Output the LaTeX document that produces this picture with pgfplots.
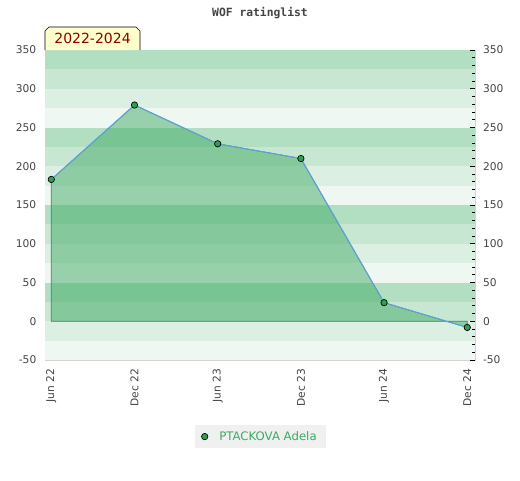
\documentclass[border=0pt]{standalone}
\usepackage{fontspec}
\setmainfont{DejaVu Sans}
\newfontfamily\monob{DejaVu Sans Mono}
\usepackage{pgfplots}
\pgfplotsset{compat=1.18}
\definecolor{bandA}{RGB}{178,223,194}
\definecolor{bandB}{RGB}{200,231,211}
\definecolor{bandC}{RGB}{220,239,227}
\definecolor{bandD}{RGB}{238,247,241}
\definecolor{areafill}{RGB}{66,170,102}
\definecolor{areaedge}{RGB}{46,139,87}
\definecolor{linecol}{RGB}{96,160,220}
\definecolor{markfill}{RGB}{46,158,85}
\definecolor{ticklab}{RGB}{68,68,68}
\definecolor{legtext}{RGB}{60,170,100}
\definecolor{legbg}{RGB}{240,240,240}
\definecolor{boxfill}{RGB}{255,255,204}
\definecolor{boxtext}{RGB}{139,0,0}
\begin{document}
\begin{tikzpicture}
\path[use as bounding box] (0,0) rectangle (390pt,360pt);
\node[font=\monob\bfseries\fontsize{8.5}{10}\selectfont, text=ticklab] at (195pt,350.5pt) {WOF ratinglist};
\begin{axis}[
  at={(33.75pt,90pt)}, anchor=south west,
  scale only axis, width=322.5pt, height=232.5pt,
  xmin=-0.076, xmax=5.093, ymin=-50, ymax=350,
  axis line style={draw=gray!35},
  xtick={0,1,2,3,4,5},
  xticklabels={Jun 22,Dec 22,Jun 23,Dec 23,Jun 24,Dec 24},
  xticklabel style={rotate=90, anchor=east, font=\fontsize{8}{9}\selectfont, text=ticklab, xshift=-3pt},
  ytick={-50,0,50,100,150,200,250,300,350},
  yticklabel style={font=\fontsize{8}{9}\selectfont, text=ticklab, xshift=-3pt},
  ytick pos=left, xtick pos=bottom,
  major tick length=0pt,
  /pgf/number format/assume math mode=true,
  legend style={at={(0.501,-0.247)}, anchor=center, fill=legbg, draw=none,
    font=\fontsize{8.8}{10}\selectfont, text=legtext, inner xsep=5pt, inner ysep=2.5pt},
  legend cell align=left,
]
% background bands
\fill[bandA] (axis cs:-1,325) rectangle (axis cs:6,350);
\fill[bandB] (axis cs:-1,300) rectangle (axis cs:6,325);
\fill[bandC] (axis cs:-1,275) rectangle (axis cs:6,300);
\fill[bandD] (axis cs:-1,250) rectangle (axis cs:6,275);
\fill[bandA] (axis cs:-1,225) rectangle (axis cs:6,250);
\fill[bandB] (axis cs:-1,200) rectangle (axis cs:6,225);
\fill[bandC] (axis cs:-1,175) rectangle (axis cs:6,200);
\fill[bandD] (axis cs:-1,150) rectangle (axis cs:6,175);
\fill[bandA] (axis cs:-1,125) rectangle (axis cs:6,150);
\fill[bandB] (axis cs:-1,100) rectangle (axis cs:6,125);
\fill[bandC] (axis cs:-1,75) rectangle (axis cs:6,100);
\fill[bandD] (axis cs:-1,50) rectangle (axis cs:6,75);
\fill[bandA] (axis cs:-1,25) rectangle (axis cs:6,50);
\fill[bandB] (axis cs:-1,0) rectangle (axis cs:6,25);
\fill[bandC] (axis cs:-1,-25) rectangle (axis cs:6,0);
\fill[bandD] (axis cs:-1,-50) rectangle (axis cs:6,-25);
\addplot[fill=areafill, fill opacity=0.5, draw=areaedge, line width=0.5pt, forget plot]
  coordinates {(0,0) (0,183) (1,279) (2,229) (3,210) (4,24) (5,-8) (5,0)} -- cycle;
\addplot[color=linecol, line width=0.8pt, mark=*, mark size=2.4pt,
  mark options={draw=black, fill=markfill, line width=0.5pt},
  legend image code/.code={\draw[mark options={draw=black, fill=markfill, line width=0.5pt}] plot coordinates {(0.05cm,0cm)}; \path (0.35cm,0cm);}]
  coordinates {(0,183) (1,279) (2,229) (3,210) (4,24) (5,-8)};
\addlegendentry{PTACKOVA Adela}
\end{axis}
\begin{axis}[
  at={(33.75pt,90pt)}, anchor=south west,
  scale only axis, width=322.5pt, height=232.5pt,
  xmin=-0.076, xmax=5.093, ymin=-50, ymax=350,
  hide x axis,
  axis y line*=right,
  y axis line style={draw=gray!35},
  ytick={-50,0,50,100,150,200,250,300,350},
  minor y tick num=4,
  ytick align=inside,
  major tick length=3.75pt, minor tick length=2.25pt,
  tick style={black, line width=0.5pt},
  yticklabel style={font=\fontsize{8}{9}\selectfont, text=ticklab, xshift=2.5pt},
  /pgf/number format/assume math mode=true,
]
\addplot[draw=none] coordinates {(0,0)};
\end{axis}
% period box
\draw[fill=boxfill, line width=0.5pt] (33.75pt,322.5pt) -- (33.75pt,336.75pt) -- (36.75pt,339.75pt) -- (102pt,339.75pt) -- (105pt,336.75pt) -- (105pt,322.5pt);
\node[font=\fontsize{10.5}{12}\selectfont, text=boxtext] at (69.4pt,331pt) {2022-2024};
\end{tikzpicture}
\end{document}
